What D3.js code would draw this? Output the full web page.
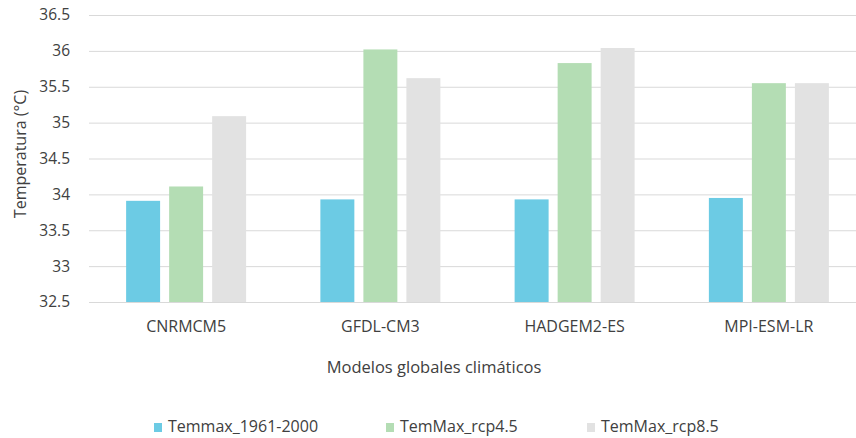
<!DOCTYPE html>
<html>
<head>
<meta charset="utf-8">
<script src="https://cdn.jsdelivr.net/npm/d3@7"></script>
<style>
  html, body { margin: 0; padding: 0; background: #fff; }
  svg { display: block; }
  text { font-family: "Open Sans", "Noto Sans", sans-serif; fill: #404040; }
</style>
</head>
<body>
<svg id="chart" width="856" height="438"></svg>
<script>
const categories = ["CNRMCM5", "GFDL-CM3", "HADGEM2-ES", "MPI-ESM-LR"];
const seriesNames = ["Temmax_1961-2000", "TemMax_rcp4.5", "TemMax_rcp8.5"];
const temmaxHist = [33.91, 33.93, 33.93, 33.95];
const temmaxRcp45 = [34.11, 36.02, 35.83, 35.55];
const temmaxRcp85 = [35.09, 35.62, 36.04, 35.55];
const yTicks = [32.5, 33, 33.5, 34, 34.5, 35, 35.5, 36, 36.5];
const colors = ["#6ccbe4", "#b4ddb4", "#e2e2e2"];

const seriesValues = [temmaxHist, temmaxRcp45, temmaxRcp85];

const svg = d3.select("#chart");
const W = 856;
const plotLeft = 89, plotBottom = 302, plotTop = 15;

const x = d3.scaleBand().domain(categories).range([plotLeft, 866]);
const y = d3.scaleLinear().domain([32.5, 36.5]).range([plotBottom, plotTop]);
const groupW = 120;
const xs = d3.scaleBand().domain(d3.range(3)).range([0, groupW]).paddingInner(0.21).paddingOuter(0);
const groupOffset = (x.bandwidth() - groupW) / 2;

// gridlines + y tick labels
const yAxis = d3.axisLeft(y).tickValues(yTicks).tickSize(-(W - plotLeft)).tickFormat(d3.format("~g"));
const gy = svg.append("g").attr("transform", `translate(${plotLeft},0)`).call(yAxis);
gy.select(".domain").remove();
gy.selectAll(".tick line").attr("stroke", "#d9d9d9").attr("stroke-width", 1);
gy.selectAll(".tick text").attr("x", -19).style("font-size", "15.5px").attr("fill", "#505050");

// bars
categories.forEach((c, i) => {
  seriesValues.forEach((vals, s) => {
    svg.append("rect")
      .attr("x", x(c) + groupOffset + xs(s))
      .attr("y", y(vals[i]))
      .attr("width", xs.bandwidth())
      .attr("height", y(32.5) - y(vals[i]))
      .attr("fill", colors[s]);
  });
});

// x axis labels
const xAxis = d3.axisBottom(x).tickSize(0).tickPadding(0);
const gx = svg.append("g").attr("transform", `translate(0,${plotBottom})`).call(xAxis);
gx.select(".domain").remove();
gx.selectAll(".tick text").style("font-size", "16px").attr("fill", "#404040").attr("y", 30).attr("dy", 0);

// axis titles
svg.append("text")
  .attr("x", 434).attr("y", 373)
  .attr("text-anchor", "middle")
  .style("font-size", "16.5px")
  .text("Modelos globales climáticos");

svg.append("text")
  .attr("transform", "translate(26,154) rotate(-90)")
  .attr("text-anchor", "middle")
  .style("font-size", "16px")
  .text("Temperatura (°C)");

// legend
const legendX = [154, 386, 587];
const legend = svg.append("g");
seriesNames.forEach((n, s) => {
  legend.append("rect")
    .attr("x", legendX[s]).attr("y", 423)
    .attr("width", 8).attr("height", 9)
    .attr("fill", colors[s]);
  legend.append("text")
    .attr("x", legendX[s] + 14).attr("y", 432)
    .style("font-size", "16px")
    .text(n);
});
</script>
</body>
</html>
